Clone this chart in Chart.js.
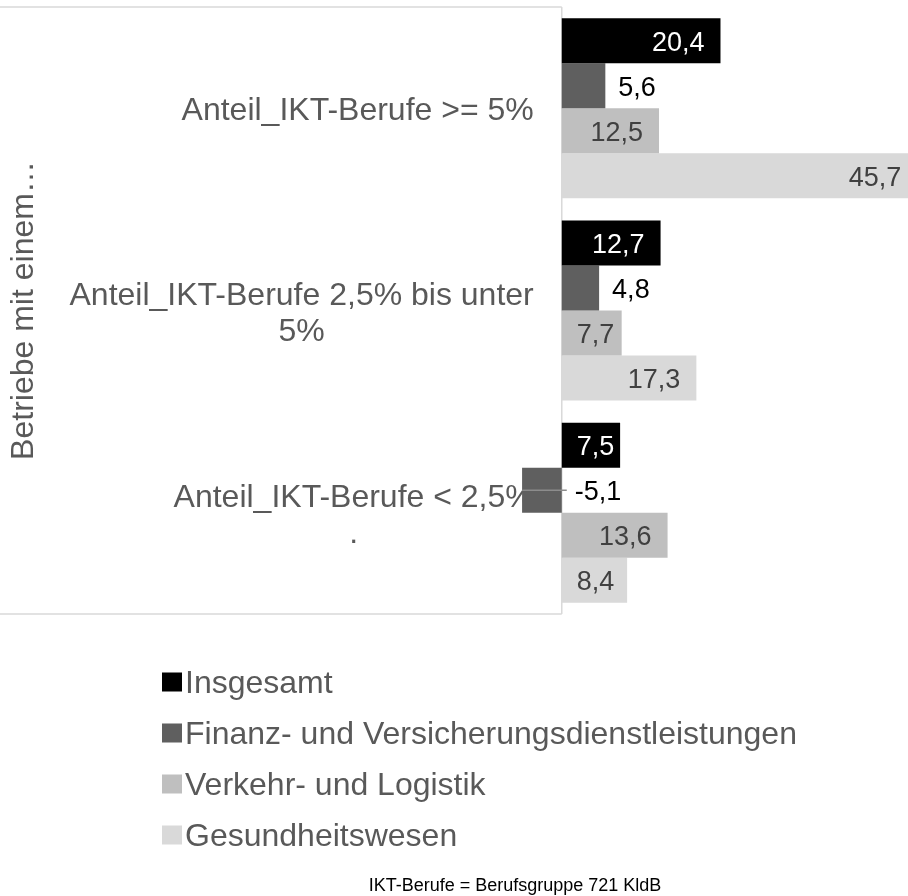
<!DOCTYPE html>
<html>
<head>
<meta charset="utf-8">
<script src="https://cdn.jsdelivr.net/npm/chart.js@4.4.1/dist/chart.umd.min.js"></script>
<style>
  body { margin: 0; background: #fff; }
  canvas { display: block; }
</style>
</head>
<body>
<canvas id="ictChart" width="908" height="896"></canvas>
<script>
// categories (multi-line labels), one array per series
var categories = [
  ["Anteil_IKT-Berufe >= 5%"],
  ["Anteil_IKT-Berufe 2,5% bis unter", "5%"],
  ["Anteil_IKT-Berufe < 2,5%", "."]
];
var seriesNames = ["Insgesamt", "Finanz- und Versicherungsdienstleistungen", "Verkehr- und Logistik", "Gesundheitswesen"];
var insgesamt = [20.4, 12.7, 7.5];
var finanz = [5.6, 4.8, -5.1];
var verkehr = [12.5, 7.7, 13.6];
var gesundheit = [45.7, 17.3, 8.4];
var axisTitle = "Betriebe mit einem…";
var footnote = "IKT-Berufe = Berufsgruppe 721 KldB";

var FONT = '"Liberation Sans", Arial, sans-serif';
var TY = 2.5; // canvas 'middle' sits a bit high for digits/caps
var fmt = (v) => v.toFixed(1).replace('.', ',');

var decorPlugin = {
  id: 'decor',
  beforeDatasetsDraw: (chart) => {
    var ctx = chart.ctx;
    var area = chart.chartArea;
    var x = chart.scales.x, y = chart.scales.y;
    var zero = x.getPixelForValue(0);
    ctx.save();
    // frame round the label area + zero line
    ctx.strokeStyle = '#d9d9d9';
    ctx.lineWidth = 1.5;
    ctx.beginPath();
    ctx.moveTo(0, area.top);
    ctx.lineTo(zero, area.top);
    ctx.moveTo(zero, area.top);
    ctx.lineTo(zero, area.bottom);
    ctx.moveTo(0, area.bottom);
    ctx.lineTo(zero, area.bottom);
    ctx.stroke();

    // category labels, lines centred in a block right-aligned at the axis
    ctx.font = '32px ' + FONT;
    ctx.fillStyle = '#595959';
    ctx.textAlign = 'center';
    ctx.textBaseline = 'middle';
    var labelRight = zero - 28;
    categories.forEach((lines, i) => {
      var cy = y.getPixelForValue(i) + TY + 1;
      var w = Math.max.apply(null, lines.map(l => ctx.measureText(l).width));
      var cx = labelRight - w / 2;
      lines.forEach((l, k) => {
        ctx.fillText(l, cx, cy + (k - (lines.length - 1) / 2) * 36);
      });
    });

    // rotated axis title
    ctx.translate(24, (area.top + area.bottom) / 2);
    ctx.rotate(-Math.PI / 2);
    ctx.fillText(axisTitle, 0, 0);
    ctx.restore();
  },
  afterDatasetsDraw: (chart) => {
    var ctx = chart.ctx;
    ctx.save();
    ctx.font = '27px ' + FONT;
    ctx.textBaseline = 'middle';
    ctx.textAlign = 'left';
    chart.data.datasets.forEach((ds, di) => {
      var meta = chart.getDatasetMeta(di);
      meta.data.forEach((bar, i) => {
        var v = ds.data[i];
        var txt = fmt(v);
        var w = ctx.measureText(txt).width;
        var base = bar.base;
        ctx.fillStyle = ds.labelColor;
        if (ds.labelInside) {
          var left = bar.x - 16 - w;
          if (left < base + 15) left = base + 15;
          ctx.fillText(txt, left, bar.y + TY);
        } else {
          var start = Math.max(bar.x, base) + 13;
          ctx.fillText(txt, start, bar.y + TY);
          if (v < 0) {
            ctx.strokeStyle = '#8c8c8c';
            ctx.lineWidth = 1.5;
            ctx.beginPath();
            ctx.moveTo(bar.x, bar.y);
            ctx.lineTo(start - 8, bar.y);
            ctx.stroke();
          }
        }
      });
    });

    // legend, one item per line
    ctx.font = '32px ' + FONT;
    chart.data.datasets.forEach((ds, di) => {
      var cy = 682 + di * 51;
      ctx.fillStyle = ds.backgroundColor;
      ctx.fillRect(162, cy - 9.5, 20, 19);
      ctx.fillStyle = '#595959';
      ctx.fillText(ds.label, 185, cy + TY);
    });

    // footnote
    ctx.font = '18px ' + FONT;
    ctx.fillStyle = '#000000';
    ctx.textAlign = 'center';
    ctx.fillText(footnote, 515, 885 + 1.5);
    ctx.restore();
  }
};

var ctx = document.getElementById('ictChart').getContext('2d');
var ictChart = new Chart(ctx, {
  type: 'bar',
  data: {
    labels: categories,
    datasets: [{
      label: seriesNames[0],
      data: insgesamt,
      backgroundColor: '#000000',
      labelColor: '#ffffff',
      labelInside: true
    }, {
      label: seriesNames[1],
      data: finanz,
      backgroundColor: '#5f5f5f',
      labelColor: '#000000',
      labelInside: false
    }, {
      label: seriesNames[2],
      data: verkehr,
      backgroundColor: '#bfbfbf',
      labelColor: '#404040',
      labelInside: true
    }, {
      label: seriesNames[3],
      data: gesundheit,
      backgroundColor: '#d9d9d9',
      labelColor: '#404040',
      labelInside: true
    }]
  },
  options: {
    indexAxis: 'y',
    responsive: false,
    animation: false,
    events: [],
    layout: {
      padding: { top: 7, bottom: 282, left: 0, right: 0 }
    },
    datasets: {
      bar: { categoryPercentage: 0.89, barPercentage: 1.0, borderWidth: 0 }
    },
    scales: {
      x: { display: false, min: -72.2, max: 44.5 },
      y: { display: false }
    },
    plugins: {
      legend: { display: false },
      tooltip: { enabled: false }
    }
  },
  plugins: [decorPlugin]
});
</script>
</body>
</html>
